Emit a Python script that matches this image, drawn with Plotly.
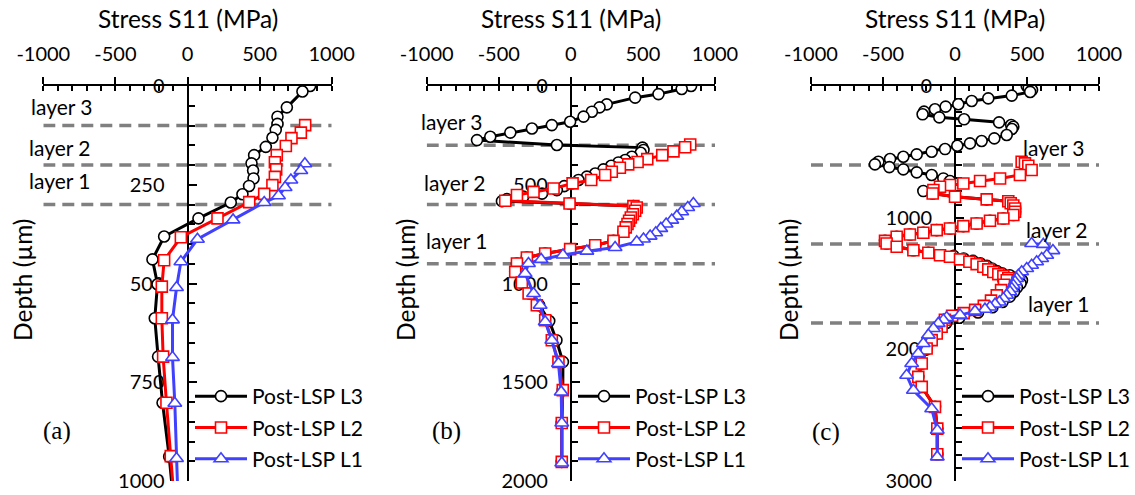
import plotly.graph_objects as go

# ---------------- data ----------------
# Panel (a)
a_L3_depth = [0, 14, 54, 78, 96, 111, 131, 154, 175, 196, 214, 234, 253, 274, 295, 335, 381, 439, 502, 588, 685, 802, 938, 1060]
a_L3_stress = [850, 797, 689, 624, 624, 612, 589, 543, 462, 444, 455, 458, 427, 381, 300, 76, -162, -243, -208, -227, -204, -173, -127, -95]
a_L2_depth = [99, 118, 132, 152, 175, 193, 211, 230, 251, 273, 294, 335, 383, 441, 508, 588, 685, 802, 937, 1060]
a_L2_stress = [816, 786, 721, 682, 619, 606, 615, 606, 589, 532, 428, 208, -46, -162, -178, -178, -169, -146, -116, -90]
a_L1_depth = [197, 214, 238, 257, 278, 295, 339, 388, 445, 510, 592, 687, 803, 943, 1060]
a_L1_stress = [814, 786, 717, 677, 631, 532, 316, 69, -46, -76, -104, -104, -88, -76, -65]
a_layers = [100, 200, 300]

# Panel (b)
b_L3_depth = [0, 15, 41, 59, 93, 108, 130, 155, 181, 198, 215, 236, 257, 274, 299, 312, 324, 338, 358, 375, 387,
              404, 422, 443, 459, 476, 493, 507, 527, 545, 560, 573, 583, 595,
              608, 615, 632, 649, 666, 682, 699, 716, 738, 784, 806, 826, 848, 868, 899, 941, 995, 1051, 1110, 1190,
              1287, 1397, 1540, 1706, 1903]
b_L3_stress = [834, 769, 608, 446, 249, 199, 146, 88, -5, -132, -270, -420, -559, -651, -97, 497, 504, 485, 423, 377, 330,
               280, 226, 169, 111, 53, 7, -46, -97, -200, -330, -444, -478, -9,
               434, 457, 446, 430, 416, 404, 393, 381, 365, 296, 169, -5, -178, -305, -374, -386, -340, -285, -220, -150,
               -100, -55, -56, -63, -63]
b_L2_depth = [296, 310, 331, 350, 370, 385, 397, 414, 434, 451, 476, 493, 519, 536, 552, 581, 595, 608, 615, 632, 649,
              666, 682, 699, 716, 738, 784, 806, 826, 848, 868, 899, 941, 995, 1051, 1110, 1186, 1287, 1397, 1540,
              1706, 1903]
b_L2_stress = [828, 793, 712, 634, 530, 463, 398, 340, 284, 238, 141, 12, -120, -259, -374, -455, -9, 434, 457, 446, 430,
               416, 404, 393, 381, 365, 296, 169, -5, -178, -305, -374, -386, -340, -293, -236, -178, -132, -86, -56,
               -63, -63]
b_L1_depth = [595, 615, 637, 659, 679, 699, 721, 743, 760, 775, 789, 818, 836, 856, 878, 899, 949, 1051, 1110, 1194,
              1287, 1405, 1549, 1706, 1909]
b_L1_stress = [850, 811, 769, 735, 700, 661, 624, 589, 550, 504, 457, 307, 111, -55, -206, -294, -317, -259, -213, -178,
               -132, -86, -67, -63, -63]
b_layers = [300, 600, 900]

# Panel (c)
c_L3_depth = [0, 15, 30, 45, 73, 94, 114, 139, 157, 177, 195, 215, 238, 253, 276, 296, 310, 327, 372, 398, 418, 436,
              454, 479, 499, 519, 537, 555, 575, 595, 616, 633, 656, 676, 702, 722, 798, 816, 841, 861, 875, 890, 908,
              930, 955, 980, 1006, 1023, 1044, 1064, 1082, 1095, 1115, 1128, 1145, 1176, 1196, 1221, 1247, 1267,
              1290, 1310, 1328, 1346, 1366, 1386, 1406, 1422, 1437, 1455, 1475, 1500, 1530, 1563, 1600, 1640, 1680,
              1720, 1760, 1800, 1829, 1880, 1930, 1994, 2108, 2209, 2285, 2437, 2602, 2797]
c_L3_stress = [498, 512, 535, 522, 394, 231, 116, 23, -65, -139, -215, -225, -109, 63, 306, 390, 405, 395, 359, 273,
               185, 104, 16, -69, -162, -266, -359, -451, -532, -556, -456, -359, -266, -162, -81, -35, -220, -155, 0,
               220, 370, 387, 405, 417, 417, 405, 336, 243, 150, 58, -35, -127, -220, -313, -405, -486, -475, -405,
               -289, -185, -10, 60, 125, 175, 222, 256, 291, 326, 380, 430, 465, 455, 430, 410, 380, 330, 260,
               160, 30, -60, -93, -127, -162, -197, -231, -255, -231, -139, -123, -123]
c_L2_depth = [575, 588, 606, 638, 676, 702, 722, 740, 752, 765, 790, 816, 841, 861, 875, 890, 908, 930, 955, 980,
              1006, 1023, 1044, 1064, 1082, 1095, 1115, 1128, 1145, 1176, 1196, 1221, 1247, 1267, 1285, 1297, 1317,
              1335, 1353, 1373, 1393, 1413, 1429, 1444, 1460, 1475, 1510, 1550, 1590, 1630, 1670, 1700, 1725, 1745,
              1775, 1829, 1880, 1930, 1994, 2108, 2209, 2285, 2437, 2602, 2797]
c_L2_stress = [463, 486, 509, 532, 451, 313, 174, 58, -35, -104, -150, -155, 0, 220, 370, 387, 405, 417, 417, 405,
               336, 243, 150, 58, -35, -127, -220, -313, -405, -486, -475, -405, -289, -185, -104, -35, 35, 100, 150,
               197, 231, 266, 301, 336, 370, 359, 340, 320, 290, 250, 200, 140, 60, -20, -70, -93, -127, -162, -197,
               -231, -255, -231, -139, -123, -123]
c_L1_depth = [1196, 1203, 1250, 1285, 1310, 1335, 1361, 1386, 1411, 1437, 1462, 1487, 1513, 1538, 1563, 1589, 1614,
              1640, 1657, 1678, 1695, 1710, 1740, 1758, 1778, 1803, 1842, 1892, 1956, 2032, 2108, 2197, 2311, 2451,
              2615, 2817]
c_L1_stress = [532, 613, 680, 637, 602, 567, 532, 498, 463, 440, 428, 417, 405, 394, 382, 359, 336, 308, 278, 243,
               208, 139, 35, -58, -81, -116, -150, -185, -220, -255, -301, -336, -289, -162, -123, -123]
c_layers = [600, 1200, 1800]

x_ticks = [-1000, -500, 0, 500, 1000]
x_ticktext = ["-1000", "-500", "0", "500", "1000"]
series_names = ["Post-LSP L3", "Post-LSP L2", "Post-LSP L1"]
panel_letters = ["(a)", "(b)", "(c)"]
layer_names = ["layer 3", "layer 2", "layer 1"]

# ---------------- layout helpers ----------------
W, H = 1135, 495
def px2x(p):
    return p / W
def py2y(p):
    return 1 - p / H

FONT = "Lato"
colors = ["#000000", "#FF0000", "#4040FF"]
symbols = ["circle", "square", "triangle-up"]

panels = [
    dict(x=(43.3, 331.7), ymax=1000, dtick=250, minor=50,
         data=[(a_L3_stress, a_L3_depth), (a_L2_stress, a_L2_depth), (a_L1_stress, a_L1_depth)],
         layers=a_layers, legend_x=190,
         layer_pos=[(62, 106), (60, 147), (60, 180)], letter=(57, 431), ytitle_x=22),
    dict(x=(426.7, 715.0), ymax=2000, dtick=500, minor=100,
         data=[(b_L3_stress, b_L3_depth), (b_L2_stress, b_L2_depth), (b_L1_stress, b_L1_depth)],
         layers=b_layers, legend_x=573,
         layer_pos=[(452, 121), (455, 183), (457, 240)], letter=(446, 431), ytitle_x=405),
    dict(x=(811.0, 1099.0), ymax=3000, dtick=1000, minor=100,
         data=[(c_L3_stress, c_L3_depth), (c_L2_stress, c_L2_depth), (c_L1_stress, c_L1_depth)],
         layers=c_layers, legend_x=957,
         layer_pos=[(1054, 147), (1057, 229), (1059, 303)], letter=(826, 432), ytitle_x=788),
]

Y_TOP, Y_BOT = 86.0, 481.0

fig = go.Figure()
layout = dict(width=W, height=H, margin=dict(l=0, r=0, t=0, b=0, pad=0, autoexpand=False),
              paper_bgcolor="white", plot_bgcolor="rgba(0,0,0,0)",
              font=dict(family=FONT, size=20, color="black"),
              shapes=[], annotations=[])

for i, p in enumerate(panels):
    n = i + 1
    xname = "xaxis" if n == 1 else f"xaxis{n}"
    yname = "yaxis" if n == 1 else f"yaxis{n}"
    xref = "x" if n == 1 else f"x{n}"
    yref = "y" if n == 1 else f"y{n}"
    dom = [px2x(p["x"][0]), px2x(p["x"][1])]
    mid = (dom[0] + dom[1]) / 2
    legname = "legend" if n == 1 else f"legend{n}"

    for k, (xs, ys) in enumerate(p["data"]):
        fig.add_trace(go.Scatter(
            x=xs, y=ys, mode="lines+markers", name=series_names[k],
            xaxis=xref, yaxis=yref, legend=legname, legendgroup=f"{n}{k}",
            line=dict(color=colors[k], width=3),
            marker=dict(symbol=symbols[k], size=11 if k < 2 else 12, color="white",
                        line=dict(color=colors[k], width=1.6)),
            cliponaxis=True,
        ))

    layout[xname] = dict(domain=dom, range=[-1000, 1000], side="top", anchor=yref, automargin=False,
                         tickvals=x_ticks, ticktext=x_ticktext,
                         ticks="outside", ticklen=7, tickwidth=2, tickcolor="black",
                         showline=True, linecolor="black", linewidth=2,
                         showgrid=False, zeroline=False, layer="below traces",
                         tickfont=dict(family=FONT, size=20, color="black"),
                         ticklabelstandoff=8,
                         minor=dict(dtick=100, tick0=0, ticks="inside", ticklen=5, tickwidth=1.5,
                                    tickcolor="black", showgrid=False))
    # overlay axis giving the inward half of the crossing major ticks
    oname = f"xaxis{n + 3}"
    layout[oname] = dict(overlaying=xref, range=[-1000, 1000], side="top", anchor=yref, automargin=False,
                         tickvals=x_ticks, ticks="inside", ticklen=6, tickwidth=2, tickcolor="black",
                         showticklabels=False, showline=False, showgrid=False, zeroline=False,
                         layer="below traces")
    layout[yname] = dict(domain=[py2y(Y_BOT), py2y(Y_TOP)], range=[p["ymax"], 0],
                         anchor="free", position=mid, side="left", automargin=False,
                         dtick=p["dtick"], tick0=0, ticks="inside", ticklen=8, tickwidth=2, tickcolor="black",
                         showline=True, linecolor="black", linewidth=2,
                         showgrid=False, zeroline=False, layer="below traces",
                         tickfont=dict(family=FONT, size=20, color="black"),
                         ticklabelstandoff=18,
                         minor=dict(dtick=p["minor"], ticks="inside", ticklen=6, tickwidth=1.5,
                                    tickcolor="black", showgrid=False))
    layout[legname] = dict(x=px2x(p["legend_x"]), y=py2y(376), xanchor="left", yanchor="top",
                           bgcolor="rgba(0,0,0,0)", font=dict(family=FONT, size=21, color="black"),
                           tracegroupgap=1, itemwidth=52, traceorder="grouped")

    for d in p["layers"]:
        layout["shapes"].append(dict(type="line", xref=xref, yref=yref, x0=-1000, x1=1000, y0=d, y1=d,
                                     line=dict(color="#808080", width=3.5, dash="12px,7px"), layer="below"))

    layout["annotations"].append(dict(text="Stress S11 (MPa)", xref="paper", yref="paper",
                                      x=mid, y=py2y(18), showarrow=False, xanchor="center", yanchor="middle",
                                      font=dict(family=FONT, size=24.5, color="black")))
    layout["annotations"].append(dict(text="Depth (µm)", xref="paper", yref="paper", textangle=-90,
                                      x=px2x(p["ytitle_x"]), y=py2y(280), showarrow=False,
                                      xanchor="center", yanchor="middle",
                                      font=dict(family=FONT, size=24.5, color="black")))
    for j, (lx, ly) in enumerate(p["layer_pos"]):
        layout["annotations"].append(dict(text=layer_names[j], xref="paper", yref="paper",
                                          x=px2x(lx), y=py2y(ly), showarrow=False,
                                          xanchor="center", yanchor="middle",
                                          font=dict(family=FONT, size=21, color="black")))
    layout["annotations"].append(dict(text=panel_letters[i], xref="paper", yref="paper",
                                      x=px2x(p["letter"][0]), y=py2y(p["letter"][1]), showarrow=False,
                                      xanchor="center", yanchor="middle",
                                      font=dict(family="Liberation Serif", size=25, color="black")))

fig.update_layout(**layout)
fig.write_html("out.html")
